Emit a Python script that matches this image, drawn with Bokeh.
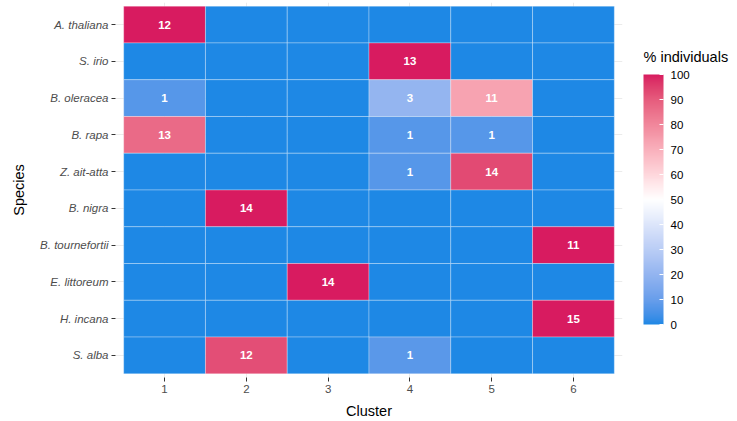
import numpy as np
from bokeh.plotting import figure
from bokeh.models import (ColumnDataSource, LinearColorMapper, ColorBar, FixedTicker,
                          Range1d)
from bokeh.core.properties import value
from bokeh.embed import file_html
from bokeh.resources import INLINE

# Species (top to bottom) and cluster ids
species = ["A. thaliana", "S. irio", "B. oleracea", "B. rapa", "Z. ait-atta",
           "B. nigra", "B. tournefortii", "E. littoreum", "H. incana", "S. alba"]
clusters = [1, 2, 3, 4, 5, 6]

# Number of individuals of each species assigned to clusters 1..6
a_thaliana = [12, 0, 0, 0, 0, 0]
s_irio = [0, 0, 0, 13, 0, 0]
b_oleracea = [1, 0, 0, 3, 11, 0]
b_rapa = [13, 0, 0, 1, 1, 0]
z_ait_atta = [0, 0, 0, 1, 14, 0]
b_nigra = [0, 14, 0, 0, 0, 0]
b_tournefortii = [0, 0, 0, 0, 0, 11]
e_littoreum = [0, 0, 14, 0, 0, 0]
h_incana = [0, 0, 0, 0, 0, 15]
s_alba = [0, 12, 0, 1, 0, 0]

counts = [a_thaliana, s_irio, b_oleracea, b_rapa, z_ait_atta,
          b_nigra, b_tournefortii, e_littoreum, h_incana, s_alba]

colorbar_ticks = list(range(0, 101, 10))

FONT = "Liberation Sans"


# --- diverging palette interpolated in CIE Lab (blue -> white -> crimson) ---
def _srgb_to_lab(hexcol):
    c = np.array([int(hexcol[i:i + 2], 16) for i in (1, 3, 5)]) / 255.0
    c = np.where(c > 0.04045, ((c + 0.055) / 1.055) ** 2.4, c / 12.92)
    m = np.array([[0.4124, 0.3576, 0.1805],
                  [0.2126, 0.7152, 0.0722],
                  [0.0193, 0.1192, 0.9505]])
    xyz = m @ c / np.array([0.95047, 1.0, 1.08883])
    f = np.where(xyz > 0.008856, np.cbrt(xyz), 7.787 * xyz + 16 / 116)
    return np.array([116 * f[1] - 16, 500 * (f[0] - f[1]), 200 * (f[1] - f[2])])


def _lab_to_hex(lab):
    L, a, b = lab
    fy = (L + 16) / 116
    fx = fy + a / 500
    fz = fy - b / 200
    f = np.array([fx, fy, fz])
    xyz = np.where(f ** 3 > 0.008856, f ** 3, (f - 16 / 116) / 7.787)
    xyz = xyz * np.array([0.95047, 1.0, 1.08883])
    mi = np.array([[3.2406, -1.5372, -0.4986],
                   [-0.9689, 1.8758, 0.0415],
                   [0.0557, -0.2040, 1.0570]])
    c = mi @ xyz
    c = np.where(c > 0.0031308, 1.055 * np.clip(c, 0, None) ** (1 / 2.4) - 0.055, 12.92 * c)
    c = np.clip(np.round(c * 255), 0, 255).astype(int)
    return "#%02x%02x%02x" % tuple(c)


low, mid, high = _srgb_to_lab("#1E88E5"), _srgb_to_lab("#FFFFFF"), _srgb_to_lab("#D81B60")
palette = []
for v in np.linspace(0, 100, 256):
    if v <= 50:
        t = v / 50
        palette.append(_lab_to_hex(low + (mid - low) * t))
    else:
        t = (v - 50) / 50
        palette.append(_lab_to_hex(mid + (high - mid) * t))

mapper = LinearColorMapper(palette=palette, low=0, high=100)

# --- long-form table of tiles ---
n = len(species)
xs, ys, cnt, pct = [], [], [], []
for i, row in enumerate(counts):
    total = sum(row)
    for j, c in enumerate(row):
        xs.append(clusters[j])
        ys.append(n - i)
        cnt.append(c)
        pct.append(100.0 * c / total)
tiles = ColumnDataSource(dict(x=xs, y=ys, pct=pct))
lab_idx = [k for k in range(len(cnt)) if cnt[k] > 0]
labels = ColumnDataSource(dict(x=[xs[k] for k in lab_idx], y=[ys[k] for k in lab_idx],
                               txt=[str(cnt[k]) for k in lab_idx]))

p = figure(width=737, height=421, output_backend="svg", toolbar_location=None,
           x_range=Range1d(0.4, 6.6), y_range=Range1d(0.4, n + 0.6),
           min_border_left=115, min_border_right=115, min_border_top=2,
           min_border_bottom=43)
p.outline_line_color = None
p.background_fill_color = "white"

p.rect(x="x", y="y", width=1, height=1, source=tiles,
       fill_color={"field": "pct", "transform": mapper},
       line_color="white", line_alpha=0.3, line_width=1)
p.text(x="x", y="y", text="txt", source=labels, text_color="white",
       text_font=value(FONT), text_font_style="bold", text_font_size="11.5px",
       text_align="center", text_baseline="middle")

# axes
p.xaxis.ticker = FixedTicker(ticks=clusters)
p.yaxis.ticker = FixedTicker(ticks=list(range(1, n + 1)))
p.yaxis.major_label_overrides = {n - i: s for i, s in enumerate(species)}
for ax in (p.xaxis[0], p.yaxis[0]):
    ax.axis_line_color = None
    ax.major_tick_line_color = "#333333"
    ax.major_tick_out = 4
    ax.major_tick_in = 0
    ax.minor_tick_line_color = None
    ax.major_label_text_font = FONT
    ax.major_label_text_font_size = "11.5px"
    ax.major_label_text_color = "#4D4D4D"
    ax.major_label_standoff = 3
    ax.axis_label_text_font = FONT
    ax.axis_label_text_font_size = "14.5px"
    ax.axis_label_text_font_style = "normal"
    ax.axis_label_text_color = "black"
p.xaxis.axis_label = "Cluster"
p.xaxis.axis_label_standoff = 7
p.yaxis.axis_label = "Species"
p.yaxis.axis_label_standoff = 10
p.yaxis.major_label_text_font_style = "italic"

p.xgrid.grid_line_color = "#EBEBEB"
p.ygrid.grid_line_color = "#EBEBEB"
p.xgrid.ticker = FixedTicker(ticks=clusters)
p.ygrid.ticker = FixedTicker(ticks=list(range(1, n + 1)))

# colour key
cb = ColorBar(color_mapper=mapper, ticker=FixedTicker(ticks=colorbar_ticks),
              width=20, height=250, location=(528, 53), padding=0, margin=0,
              major_label_text_font=FONT, major_label_text_font_size="11.5px",
              major_label_text_color="black", label_standoff=7,
              major_tick_line_color="white", major_tick_in=4, major_tick_out=0,
              bar_line_color=None, border_line_color=None, background_fill_color=None)
p.add_layout(cb, "center")

# horizontal heading for the colour key (an empty, invisible horizontal bar carrying the title)
key_title = ColorBar(color_mapper=mapper, orientation="horizontal", ticker=FixedTicker(ticks=[]),
                     width=100, height=1, location=(528, 312), padding=0, margin=0,
                     scale_alpha=0, major_label_text_alpha=0, major_tick_line_color=None,
                     minor_tick_line_color=None, bar_line_color=None, border_line_color=None,
                     background_fill_color=None, title="% individuals", title_standoff=0,
                     title_text_font=FONT, title_text_font_size="14.5px",
                     title_text_font_style="normal", title_text_color="black")
p.add_layout(key_title, "center")

open("out.html", "w").write(file_html(p, INLINE))
